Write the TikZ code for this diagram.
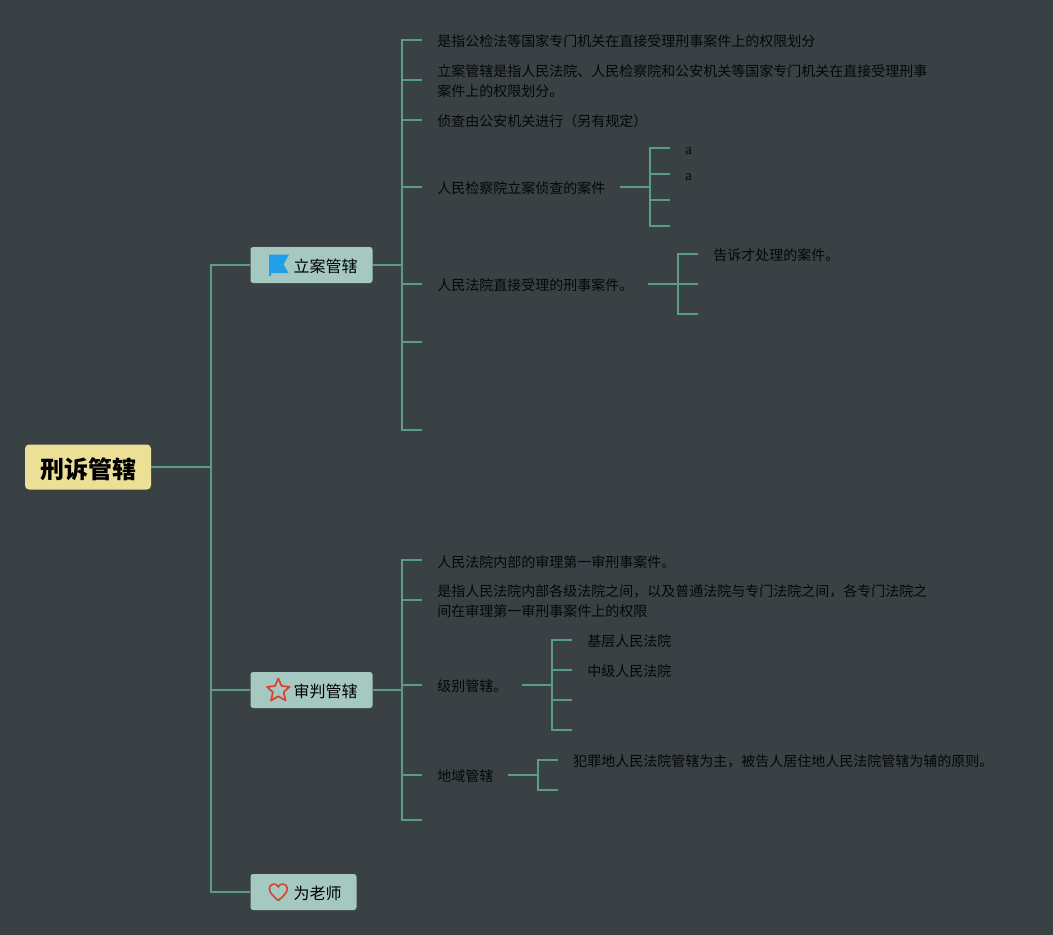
\documentclass[tikz,border=0pt]{standalone}
\usepackage{fontspec}
\setmainfont{Noto Sans CJK SC}
\newfontfamily\latinserif{Liberation Serif}
\definecolor{bgc}{HTML}{3A4144}
\definecolor{linec}{HTML}{5A9C8A}
\definecolor{rootc}{HTML}{EBE096}
\definecolor{mainc}{HTML}{A5C8C0}
\definecolor{inkc}{HTML}{050708}
\definecolor{flagc}{HTML}{1E9FE8}
\definecolor{iconred}{HTML}{D8432F}
\tikzset{
  conn/.style={draw=linec,line width=1.35pt},
  thick conn/.style={draw=linec,line width=2pt},
  rootbox/.style={fill=rootc,rounded corners=3pt,minimum width=94.5pt,minimum height=33.75pt,inner sep=0pt,text=black,text height=18pt,text depth=1.4pt,font=\fontsize{18pt}{22pt}\selectfont\bfseries},
  mainbox/.style={fill=mainc,rounded corners=2pt,minimum height=27pt,inner sep=0pt,text=black,text height=12pt,text depth=1.4pt,font=\fontsize{12pt}{15pt}\selectfont},
  leaf/.style={anchor=west,inner sep=0pt,align=left,text=inkc,font=\fontsize{10.5pt}{15pt}\selectfont},
  small a/.style={anchor=west,inner sep=0pt,text=inkc,font=\latinserif\fontsize{11pt}{13pt}\selectfont},
  iconline/.style={draw=iconred,line width=1.3pt,line join=round}
}
\begin{document}
\begin{tikzpicture}[x=0.75pt,y=-0.75pt]
\useasboundingbox[fill=bgc] (0,0) rectangle (1053,935);
% main nodes
\node[rootbox] (root) at (88,467) {刑诉管辖};
\node[mainbox,minimum width=91.5pt] (n1) at (311.5,265) {\hspace*{21pt}立案管辖};
\node[mainbox,minimum width=91.5pt] (n2) at (311.5,690) {\hspace*{21pt}审判管辖};
\node[mainbox,minimum width=79.5pt] (n3) at (303.5,892) {\hspace*{21pt}为老师};
% junctions
\coordinate (jr) at (211,467);
\coordinate (j1) at (402,265);
\coordinate (j2) at (402,690);
\coordinate (j14) at (650,187);
\coordinate (j15) at (678,284);
\coordinate (j23) at (552,685);
\coordinate (j24) at (538,775);
% leaf text
\node[leaf] (t1) at (437,41.5) {是指公检法等国家专门机关在直接受理刑事案件上的权限划分};
\node[leaf] (t2) at (437,81.5) {立案管辖是指人民法院、人民检察院和公安机关等国家专门机关在直接受理刑事\\案件上的权限划分。};
\node[leaf] (t3) at (437,121.5) {侦查由公安机关进行（另有规定）};
\node[leaf] (t4) at (437,188) {人民检察院立案侦查的案件};
\node[leaf] (t5) at (437,285) {人民法院直接受理的刑事案件。};
\node[small a] (t41) at (685,151) {a};
\node[small a] (t42) at (685,177) {a};
\node[leaf] (t51) at (713,255.5) {告诉才处理的案件。};
\node[leaf] (u1) at (437,562) {人民法院内部的审理第一审刑事案件。};
\node[leaf] (u2) at (437,601.5) {是指人民法院内部各级法院之间，以及普通法院与专门法院之间，各专门法院之\\间在审理第一审刑事案件上的权限};
\node[leaf] (u3) at (437,686.5) {级别管辖。};
\node[leaf] (u4) at (437,776.5) {地域管辖};
\node[leaf] (u31) at (587,641.5) {基层人民法院};
\node[leaf] (u32) at (587,671.5) {中级人民法院};
\node[leaf] (u41) at (573,761.5) {犯罪地人民法院管辖为主，被告人居住地人民法院管辖为辅的原则。};
% free ends
\coordinate (c1) at (422,40);
\coordinate (c2) at (422,80);
\coordinate (c3) at (422,120);
\coordinate (c4) at (422,187);
\coordinate (c5) at (422,284);
\coordinate (c6) at (422,342);
\coordinate (c7) at (422,430);
\coordinate (c41) at (670,148);
\coordinate (c42) at (670,174);
\coordinate (c43) at (670,200);
\coordinate (c44) at (670,226);
\coordinate (c51) at (698,254);
\coordinate (c52) at (698,284);
\coordinate (c53) at (698,314);
\coordinate (d1) at (422,560);
\coordinate (d2) at (422,600);
\coordinate (d3) at (422,685);
\coordinate (d4) at (422,775);
\coordinate (d5) at (422,820);
\coordinate (d31) at (572,640);
\coordinate (d32) at (572,670);
\coordinate (d33) at (572,700);
\coordinate (d34) at (572,730);
\coordinate (d41) at (558,760);
\coordinate (d42) at (558,790);
\coordinate (s4) at (620,187);
\coordinate (s5) at (648,284);
\coordinate (s23) at (522,685);
\coordinate (s24) at (508,775);
% connectors
\draw[thick conn] (root.east) -- (jr);
\draw[conn] (jr) |- (n1.west);
\draw[conn] (jr) |- (n2.west);
\draw[conn] (jr) |- (n3.west);
\draw[conn] (n1.east) -- (j1);
\draw[conn] (n2.east) -- (j2);
\foreach \c in {c1,c2,c3,c4,c5,c6,c7} \draw[conn] (j1) |- (\c);
\foreach \c in {d1,d2,d3,d4,d5} \draw[conn] (j2) |- (\c);
\draw[conn] (s4) -- (j14);
\foreach \c in {c41,c42,c43,c44} \draw[conn] (j14) |- (\c);
\draw[conn] (s5) -- (j15);
\foreach \c in {c51,c52,c53} \draw[conn] (j15) |- (\c);
\draw[conn] (s23) -- (j23);
\foreach \c in {d31,d32,d33,d34} \draw[conn] (j23) |- (\c);
\draw[conn] (s24) -- (j24);
\foreach \c in {d41,d42} \draw[conn] (j24) |- (\c);
% flag icon
\fill[flagc] (269,254.5) -- (289,254.5) -- (283.5,264.5) -- (288.5,273) -- (271,273) -- (271,276) -- (269,276) -- cycle;
% star icon
\draw[iconline] (278.3,678.5) -- (281.6,686) -- (289.5,686.8) -- (283.7,692.2) -- (285.6,700.5) -- (278.3,696.3) -- (271,700.5) -- (272.9,692.2) -- (267,686.8) -- (275,686) -- cycle;
% heart icon
\draw[iconline,line width=1.2pt] (278.3,900.5) .. controls (273,896) and (269.5,892.5) .. (269.5,889) .. controls (269.5,885.5) and (272,884) .. (274,884) .. controls (276,884) and (277.5,885) .. (278.3,887) .. controls (279,885) and (280.5,884) .. (282.5,884) .. controls (285,884) and (287.2,885.5) .. (287.2,889) .. controls (287.2,892.5) and (283.5,896) .. (278.3,900.5) -- cycle;
\end{tikzpicture}
\end{document}
